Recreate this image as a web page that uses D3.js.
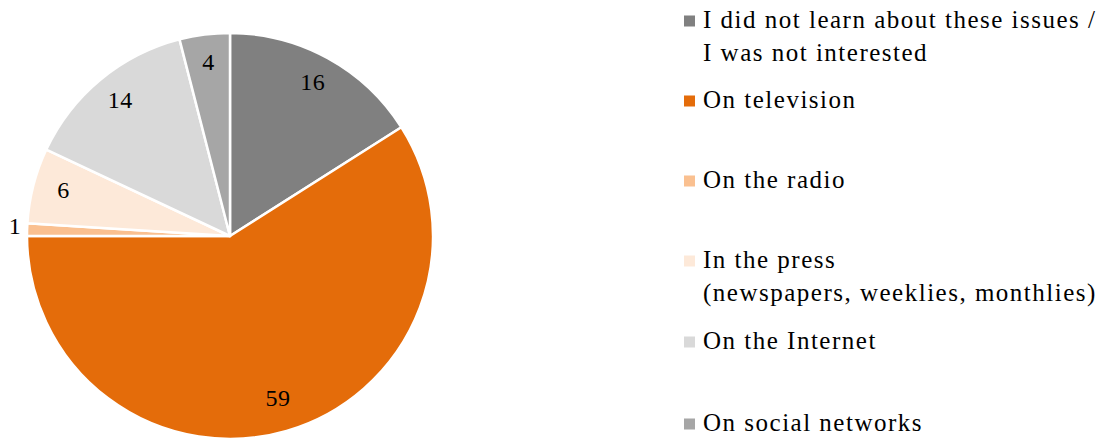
<!DOCTYPE html>
<html>
<head>
<meta charset="utf-8">
<script src="https://cdn.jsdelivr.net/npm/d3@7/dist/d3.min.js"></script>
<style>
  html, body { margin: 0; padding: 0; background: #fff; }
  svg text { font-family: "Liberation Serif", "DejaVu Serif", serif; fill: #000; }
</style>
</head>
<body>
<svg id="chart" width="1114" height="439"></svg>
<script>
// Where respondents learned about the issues (share, %)
const categories = [
  ["I did not learn about these issues /", "I was not interested"],
  ["On television"],
  ["On the radio"],
  ["In the press", "(newspapers, weeklies, monthlies)"],
  ["On the Internet"],
  ["On social networks"]
];
const values = [16, 59, 1, 6, 14, 4];
const colors = ["#808080", "#E46C0A", "#FAC090", "#FDE9D9", "#D9D9D9", "#A6A6A6"];

const width = 1114, height = 439;
const cx = 230, cy = 236, R = 203;

const svg = d3.select("#chart");
const data = values.map((v, i) => ({ value: v, label: categories[i], color: colors[i] }));

const pie = d3.pie().value(d => d.value).sort(null);
const arcs = pie(data);
const arc = d3.arc().innerRadius(0).outerRadius(R);
const labelArc = d3.arc().innerRadius(172).outerRadius(172);
const outerLabelArc = d3.arc().innerRadius(215).outerRadius(215);

const g = svg.append("g").attr("transform", `translate(${cx},${cy})`);

g.selectAll("path.slice")
  .data(arcs)
  .join("path")
  .attr("class", "slice")
  .attr("d", arc)
  .attr("fill", d => d.data.color)
  .attr("stroke", "#fff")
  .attr("stroke-width", 2.5)
  .attr("stroke-linejoin", "round");

// value labels: inside the slice, or just outside for very thin slices
g.selectAll("text.value")
  .data(arcs)
  .join("text")
  .attr("class", "value")
  .attr("transform", d => {
    const small = (d.endAngle - d.startAngle) < 0.1;
    const [x, y] = (small ? outerLabelArc : labelArc).centroid(d);
    return `translate(${x},${y - 3})`;
  })
  .attr("text-anchor", "middle")
  .attr("dominant-baseline", "central")
  .style("font-size", "24px")
  .style("letter-spacing", "0.5px")
  .text(d => d.data.value);

// legend
const legendX = 684, textX = 703;
const rowTop = [21, 101, 181, 261, 342, 424];
const legend = svg.append("g");
const items = legend.selectAll("g.item")
  .data(data)
  .join("g")
  .attr("class", "item")
  .attr("transform", (d, i) => `translate(0,${rowTop[i]})`);

items.append("rect")
  .attr("x", legendX)
  .attr("y", -5.5)
  .attr("width", 11)
  .attr("height", 11)
  .attr("fill", d => d.color);

items.append("text")
  .attr("x", textX)
  .attr("y", 7)
  .style("font-size", "25px")
  .style("letter-spacing", "1.5px")
  .selectAll("tspan")
  .data(d => d.label)
  .join("tspan")
  .attr("x", textX)
  .attr("dy", (d, i) => i === 0 ? 0 : 33)
  .text(d => d);
</script>
</body>
</html>
